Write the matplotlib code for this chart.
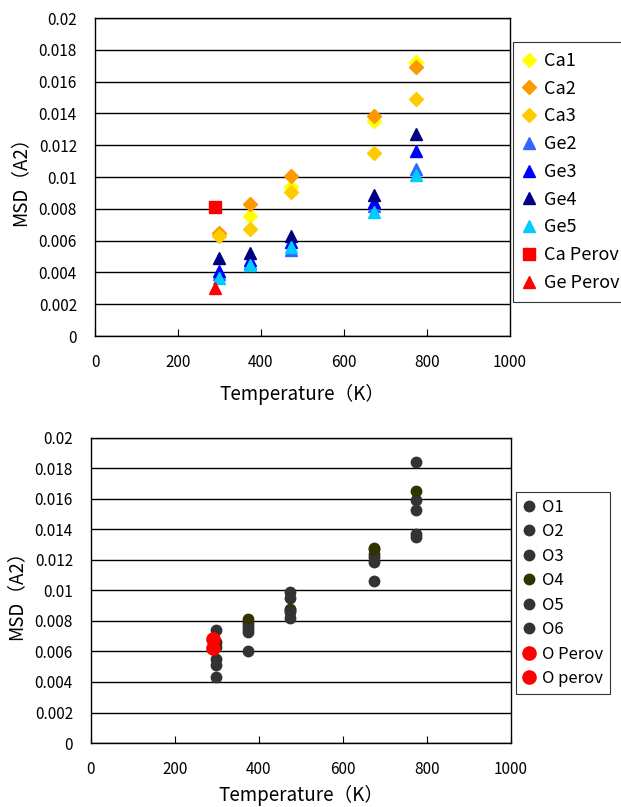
import matplotlib
matplotlib.use("Agg")
import matplotlib.pyplot as plt

plt.rcParams['font.family'] = ['Noto Sans CJK JP', 'DejaVu Sans']

# temperatures (K)
temps = [298, 373, 473, 673, 773]
perov_t = [290]

# top chart: cation MSD
ca1 = [0.0064, 0.00756, 0.00935, 0.01350, 0.01725]
ca2 = [0.0065, 0.0083, 0.01008, 0.01383, 0.01690]
ca3 = [0.0063, 0.00674, 0.00905, 0.01152, 0.01493]
ge2 = [0.0039, 0.0046, 0.0054, 0.0082, 0.01051]
ge3 = [0.0041, 0.00478, 0.0059, 0.00844, 0.01162]
ge4 = [0.00489, 0.00525, 0.00627, 0.00886, 0.01272]
ge5 = [0.00363, 0.00447, 0.0056, 0.00783, 0.01015]
ca_perov = [0.0081]
ge_perov = [0.0030]

# bottom chart: oxygen MSD
o1 = [0.0074, 0.0079, 0.0099, 0.0128, 0.0184]
o2 = [0.0063, 0.0077, 0.0095, 0.0124, 0.0159]
o3 = [0.0055, 0.0075, 0.0088, 0.0122, 0.0153]
o4 = [0.0066, 0.0081, 0.0087, 0.0127, 0.0165]
o5 = [0.0051, 0.0073, 0.0086, 0.0119, 0.0137]
o6 = [0.0043, 0.0060, 0.0082, 0.0106, 0.0135]
o_perov1 = [0.0068]
o_perov2 = [0.0062]

fig = plt.figure(figsize=(6.21, 8.07), dpi=100)
ax1 = fig.add_axes([0.153, 0.5836, 0.668, 0.394])
ax2 = fig.add_axes([0.1465, 0.0793, 0.6763, 0.378])

top_series = [
    (temps, ca1, 'Ca1', 'D', '#FFFF00', 7),
    (temps, ca2, 'Ca2', 'D', '#FF9900', 7),
    (temps, ca3, 'Ca3', 'D', '#FFCC00', 7),
    (temps, ge2, 'Ge2', '^', '#3366FF', 8),
    (temps, ge3, 'Ge3', '^', '#0000FF', 8),
    (temps, ge4, 'Ge4', '^', '#000080', 8),
    (temps, ge5, 'Ge5', '^', '#00CCFF', 8),
    (perov_t, ca_perov, 'Ca Perov', 's', '#FF0000', 8),
    (perov_t, ge_perov, 'Ge Perov', '^', '#FF0000', 9),
]
bottom_series = [
    (temps, o1, 'O1', 'o', '#333333', 7.5),
    (temps, o2, 'O2', 'o', '#333333', 7.5),
    (temps, o3, 'O3', 'o', '#333333', 7.5),
    (temps, o4, 'O4', 'o', '#333300', 7.5),
    (temps, o5, 'O5', 'o', '#333333', 7.5),
    (temps, o6, 'O6', 'o', '#333333', 7.5),
    (perov_t, o_perov1, 'O Perov', 'o', '#FF0000', 9.5),
    (perov_t, o_perov2, 'O perov', 'o', '#FF0000', 9.5),
]

def draw(ax, series, leg_anchor, fs, spacing, bpad, xpad):
    for x, y, lab, m, c, ms in series:
        ax.plot(x, y, linestyle='none', marker=m, color=c, markersize=ms,
                markeredgecolor=c, label=lab, zorder=3)
    ax.set_xlim(0, 1000)
    ax.set_ylim(0, 0.02)
    ax.set_xticks([0, 200, 400, 600, 800, 1000])
    ax.set_yticks([i * 0.002 for i in range(11)])
    ax.set_yticklabels(['0', '0.002', '0.004', '0.006', '0.008', '0.01',
                        '0.012', '0.014', '0.016', '0.018', '0.02'])
    ax.grid(axis='y', color='black', linewidth=1)
    ax.set_axisbelow(True)
    ax.tick_params(axis='x', direction='in', length=5, pad=13, labelsize=11)
    ax.tick_params(axis='y', length=0, pad=13, labelsize=11)
    for s in ax.spines.values():
        s.set_color('black')
        s.set_linewidth(1)
    ax.set_xlabel('Temperature（K）', fontsize=13.5, labelpad=xpad)
    ax.set_ylabel('MSD（A2）', fontsize=13.5, labelpad=6)
    leg = ax.legend(loc='upper left', bbox_to_anchor=leg_anchor,
                    bbox_transform=fig.transFigure, frameon=True,
                    fancybox=False, edgecolor='black', fontsize=fs,
                    handlelength=0.7, handletextpad=0.45,
                    labelspacing=spacing, borderpad=bpad, borderaxespad=0)
    leg.get_frame().set_linewidth(0.8)

draw(ax1, top_series, (0.826, 0.948), 13, 0.54, 0.55, 9)
draw(ax2, bottom_series, (0.831, 0.3903), 12, 0.45, 0.4, 5)

fig.savefig('out.png', dpi=100)
